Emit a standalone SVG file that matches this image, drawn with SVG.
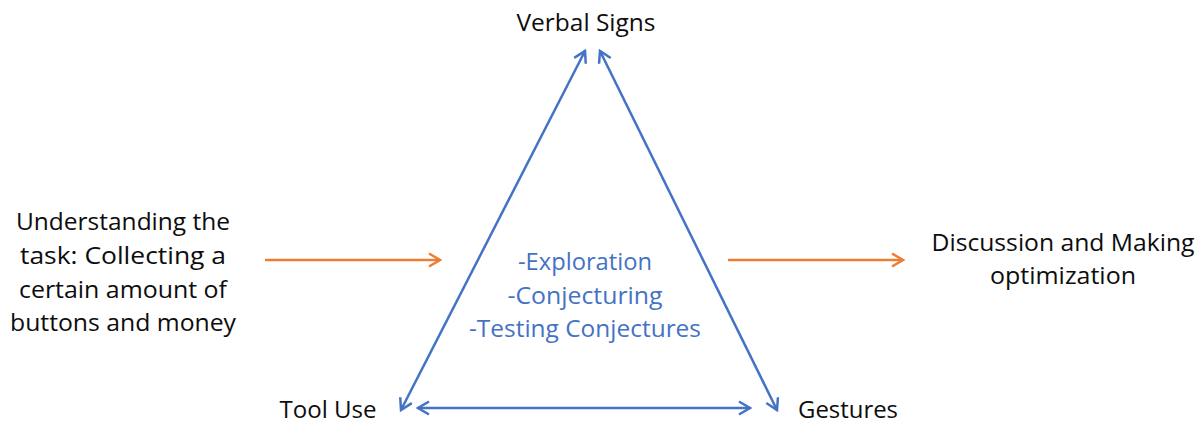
<svg xmlns="http://www.w3.org/2000/svg" width="1204" height="423" viewBox="0 0 1204 423">
<style>
.t{font-family:"Open Sans","Liberation Sans",sans-serif;font-size:23px;fill:#0d0d0d;text-anchor:middle}
.c{fill:#4472C4}
.b{stroke:#4472C4;stroke-width:2.5;fill:none}
.o{stroke:#ED7D31;stroke-width:2.5;fill:none}
</style>
<defs>
<marker id="ab" viewBox="0 0 16 16" refX="13" refY="8" markerWidth="16" markerHeight="16" markerUnits="userSpaceOnUse" orient="auto-start-reverse">
<path d="M2,1.5 L13,8 L2,14.5" fill="none" stroke="#4472C4" stroke-width="2.5"/>
</marker>
<marker id="ao" viewBox="0 0 16 16" refX="13" refY="8" markerWidth="16" markerHeight="16" markerUnits="userSpaceOnUse" orient="auto">
<path d="M2,1.5 L13,8 L2,14.5" fill="none" stroke="#ED7D31" stroke-width="2.5"/>
</marker>
</defs>
<g id="connectors">
<line class="b" x1="585" y1="51" x2="401" y2="410" marker-start="url(#ab)" marker-end="url(#ab)"/>
<line class="b" x1="600" y1="51" x2="777" y2="410" marker-start="url(#ab)" marker-end="url(#ab)"/>
<line class="b" x1="418" y1="408" x2="750" y2="408" marker-start="url(#ab)" marker-end="url(#ab)"/>
<line class="o" x1="265" y1="260" x2="440" y2="260" marker-end="url(#ao)"/>
<line class="o" x1="728" y1="260" x2="903" y2="260" marker-end="url(#ao)"/>
</g>
<g id="verbal-signs"><text class="t" x="586" y="31" textLength="139" lengthAdjust="spacingAndGlyphs">Verbal Signs</text></g>
<g id="tool-use"><text class="t" x="328" y="418" textLength="97" lengthAdjust="spacingAndGlyphs">Tool Use</text></g>
<g id="gestures"><text class="t" x="848" y="418" textLength="100" lengthAdjust="spacingAndGlyphs">Gestures</text></g>
<g id="understanding">
<text class="t" x="123" y="230" textLength="214" lengthAdjust="spacingAndGlyphs">Understanding the</text>
<text class="t" x="123" y="264" textLength="206" lengthAdjust="spacingAndGlyphs">task: Collecting a</text>
<text class="t" x="123" y="298" textLength="208" lengthAdjust="spacingAndGlyphs">certain amount of</text>
<text class="t" x="123" y="331" textLength="226" lengthAdjust="spacingAndGlyphs">buttons and money</text>
</g>
<g id="center">
<text class="t c" x="585" y="270" textLength="134" lengthAdjust="spacingAndGlyphs">-Exploration</text>
<text class="t c" x="585" y="304" textLength="155" lengthAdjust="spacingAndGlyphs">-Conjecturing</text>
<text class="t c" x="585" y="337" textLength="232" lengthAdjust="spacingAndGlyphs">-Testing Conjectures</text>
</g>
<g id="discussion">
<text class="t" x="1063" y="251" textLength="263" lengthAdjust="spacingAndGlyphs">Discussion and Making</text>
<text class="t" x="1063" y="284" textLength="146" lengthAdjust="spacingAndGlyphs">optimization</text>
</g>
</svg>
